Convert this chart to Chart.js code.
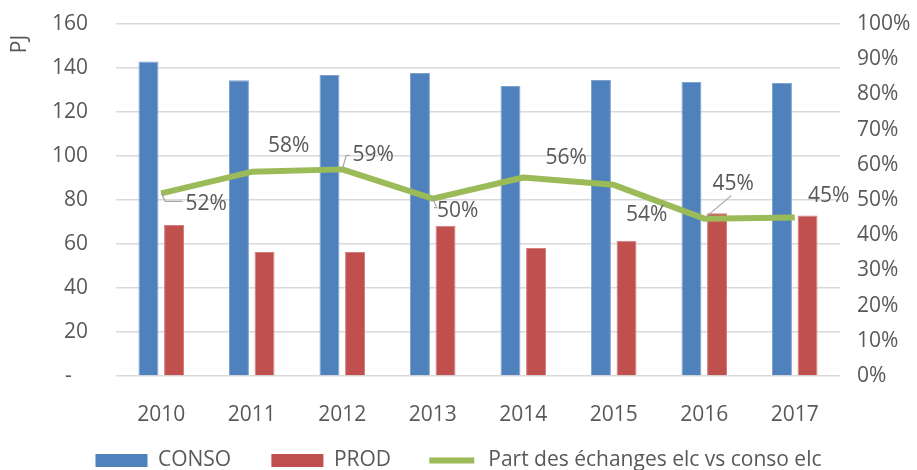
<!DOCTYPE html>
<html>
<head>
<meta charset="utf-8">
<script src="https://cdn.jsdelivr.net/npm/chart.js@4/dist/chart.umd.min.js"></script>
<style>
  html, body { margin: 0; padding: 0; background: #fff; }
  #wrap { width: 917px; height: 470px; }
</style>
</head>
<body>
<div id="wrap"><canvas id="chart"></canvas></div>
<script>
// data
const years = ["2010", "2011", "2012", "2013", "2014", "2015", "2016", "2017"];
const conso = [143.0, 134.4, 136.8, 137.7, 131.8, 134.5, 133.6, 133.2];
const prod = [68.6, 56.4, 56.4, 68.3, 58.2, 61.5, 74.0, 72.9];
const partEchanges = [51.9, 58.0, 58.7, 50.4, 56.4, 54.3, 44.7, 45.0];

const BLUE = "#4F81BD";
const RED = "#C0504D";
const GREEN = "#9BBB59";
const TEXT = "#595959";
const FONT = "'Open Sans', 'Noto Sans', sans-serif";
const FS = 21;

// where each % label sits relative to its point, and what leader it gets
const labelOffsets = [[45, 11], [37, -26], [31, -14], [25, 12], [43, -19], [33, 30], [29, -35], [34, -22]];
const leaders = ["elbow", null, "elbow", "elbow", null, null, "diag", null];

const pctLabels = {
  id: "pctLabels",
  afterDatasetsDraw(chart) {
    const ctx = chart.ctx;
    const meta = chart.getDatasetMeta(2);
    ctx.save();
    ctx.font = FS + "px " + FONT;
    ctx.textAlign = "center";
    ctx.textBaseline = "middle";
    meta.data.forEach((pt, i) => {
      const txt = Math.round(partEchanges[i]) + "%";
      const lx = pt.x + labelOffsets[i][0];
      const ly = pt.y + labelOffsets[i][1];
      const w = ctx.measureText(txt).width;
      if (leaders[i]) {
        ctx.strokeStyle = "#A6A6A6";
        ctx.lineWidth = 1.2;
        ctx.beginPath();
        if (leaders[i] === "elbow") {
          const ey = ly + (ly > pt.y ? -3 : 0);
          ctx.moveTo(pt.x, pt.y);
          ctx.lineTo(pt.x + 4, ey);
          ctx.lineTo(lx - w / 2 - 3, ey);
        } else {
          ctx.moveTo(pt.x + 2, pt.y - 2);
          ctx.lineTo(lx - 2, ly + 12);
        }
        ctx.stroke();
      }
      ctx.fillStyle = TEXT;
      ctx.fillText(txt, lx, ly);
    });
    ctx.restore();
  }
};

// keep the tick padding from pushing the plot area in
const noVPad = (s, w) => { s.width = w; s.paddingTop = 0; s.paddingBottom = 0; };

const ctx = document.getElementById("chart").getContext("2d");
new Chart(ctx, {
  type: "bar",
  data: {
    labels: years,
    datasets: [
      {
        label: "CONSO",
        data: conso,
        backgroundColor: BLUE,
        borderColor: "#7FA3D1",
        borderWidth: 1,
        yAxisID: "y",
        order: 1,
        barPercentage: 0.78,
        categoryPercentage: 0.565,
      },
      {
        label: "PROD",
        data: prod,
        backgroundColor: RED,
        borderColor: "#D47F7D",
        borderWidth: 1,
        yAxisID: "y",
        order: 1,
        barPercentage: 0.78,
        categoryPercentage: 0.565,
      },
      {
        type: "line",
        label: "Part des échanges elc vs conso elc",
        data: partEchanges,
        borderColor: GREEN,
        backgroundColor: GREEN,
        borderWidth: 6,
        pointRadius: 0,
        tension: 0,
        fill: false,
        borderJoinStyle: "round",
        yAxisID: "y1",
        order: 0,
      },
    ],
  },
  options: {
    responsive: true,
    maintainAspectRatio: false,
    animation: false,
    layout: { padding: { top: 24, left: 0, right: 0, bottom: -11 } },
    plugins: {
      tooltip: { enabled: false },
      legend: {
        position: "bottom",
        labels: {
          color: TEXT,
          font: { family: FONT, size: FS },
          boxWidth: 52,
          boxHeight: 13,
          padding: 2,
          generateLabels: () => [
            { text: "CONSO" + " ".repeat(7), fillStyle: BLUE, strokeStyle: BLUE, lineWidth: 0, datasetIndex: 0, fontColor: TEXT },
            { text: "PROD" + " ".repeat(6), fillStyle: RED, strokeStyle: RED, lineWidth: 0, datasetIndex: 1, fontColor: TEXT },
            { text: "Part des échanges elc vs conso elc", fillStyle: GREEN, strokeStyle: "#ffffff", lineWidth: 7, datasetIndex: 2, fontColor: TEXT },
          ],
        },
      },
    },
    scales: {
      x: {
        grid: { display: false },
        border: { display: false },
        ticks: { color: TEXT, font: { family: FONT, size: FS }, padding: 18 },
        afterFit: (s) => { s.height = 72; },
      },
      y: {
        position: "left",
        min: 0,
        max: 160,
        ticks: {
          stepSize: 20,
          color: TEXT,
          font: { family: FONT, size: FS },
          padding: 28,
          callback: (v) => (v === 0 ? "-   " : v),
        },
        grid: { color: "#D9D9D9", lineWidth: 1.5, drawTicks: false },
        border: { display: false },
        title: {
          display: true,
          text: "PJ  ",
          align: "end",
          color: TEXT,
          font: { family: FONT, size: FS },
          padding: { top: 7, bottom: 0 },
        },
        afterFit: (s) => noVPad(s, 116),
      },
      y1: {
        position: "right",
        min: 0,
        max: 100,
        ticks: {
          stepSize: 10,
          color: TEXT,
          font: { family: FONT, size: FS },
          padding: 17,
          callback: (v) => v + "%",
        },
        grid: { display: false, drawTicks: false },
        border: { display: false },
        afterFit: (s) => noVPad(s, 77),
      },
    },
  },
  plugins: [pctLabels],
});
</script>
</body>
</html>
